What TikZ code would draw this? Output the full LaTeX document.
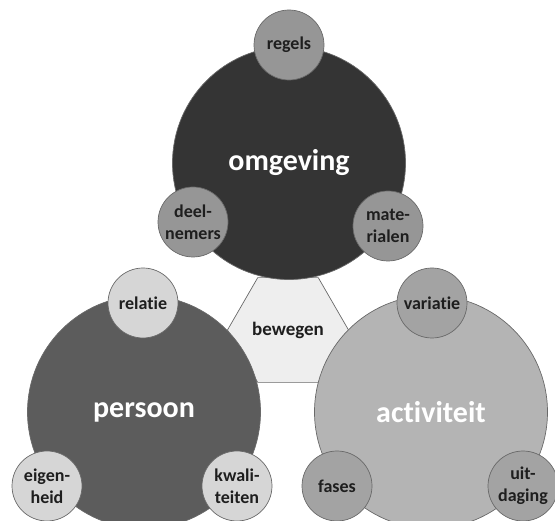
\documentclass[tikz,border=0pt]{standalone}
\usepackage{fontspec}
\setmainfont[Ligatures=NoCommon]{Carlito}
\usetikzlibrary{shapes.geometric}
\definecolor{xdark}{RGB}{52,52,52}
\definecolor{xmid}{RGB}{92,92,92}
\definecolor{xlight}{RGB}{180,180,180}
\definecolor{xdarksub}{RGB}{150,150,150}
\definecolor{xmidsub}{RGB}{214,214,214}
\definecolor{xlightsub}{RGB}{163,163,163}
\definecolor{xhex}{RGB}{238,238,238}
\definecolor{xline}{RGB}{105,105,105}
\definecolor{xtext}{RGB}{30,30,30}
\begin{document}
\begin{tikzpicture}[x=1pt,y=-1pt]
\tikzset{big/.style={circle,draw=xline,line width=0.7pt,minimum size=233pt,inner sep=0pt,text=white,font=\fontsize{30}{36}\selectfont\bfseries}}
\tikzset{small/.style={circle,draw=xline,line width=0.7pt,minimum size=70pt,inner sep=0pt,align=center,text=xtext,font=\fontsize{18}{22}\selectfont\bfseries}}
\tikzset{hexa/.style={regular polygon,regular polygon sides=6,draw=xline,line width=0.7pt,fill=xhex,minimum size=121pt,inner sep=0pt,text=xtext,font=\fontsize{19}{22}\selectfont\bfseries}}
\useasboundingbox (0,0) rectangle (555,521);
\node[hexa] at (288,330) (bew) {bewegen};
\node[big,fill=xdark] at (289,163) (omg) {omgeving};
\node[big,fill=xmid] at (144,412) (pers) {persoon};
\node[big,fill=xlight] at (431,412) (act) {activiteit};
\node[small,fill=xdarksub] at (289,45) (reg) {regels};
\node[small,fill=xdarksub] at (193,222) (deel) {deel-\\nemers};
\node[small,fill=xdarksub] at (388,226) (mat) {mate-\\rialen};
\node[small,fill=xmidsub] at (143,303) (rel) {relatie};
\node[small,fill=xmidsub] at (47,486) (eig) {eigen-\\heid};
\node[small,fill=xmidsub] at (237,486) (kwal) {kwali-\\teiten};
\node[small,fill=xlightsub] at (432,303) (var) {variatie};
\node[small,fill=xlightsub] at (337,486) (fas) {fases};
\node[small,fill=xlightsub] at (523,486) (uit) {uit-\\daging};
\end{tikzpicture}
\end{document}
